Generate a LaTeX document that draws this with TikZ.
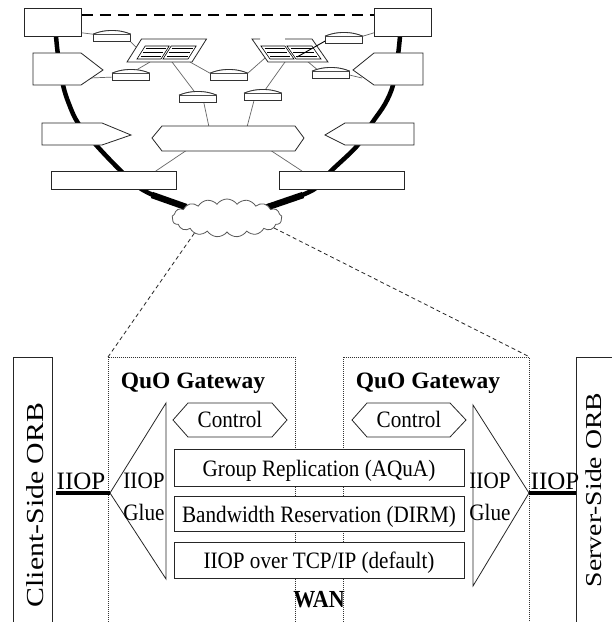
\documentclass[tikz,border=0pt]{standalone}
\usepackage{fontspec}
\setmainfont{Liberation Serif}
\usepackage{graphicx}
\usetikzlibrary{shapes.symbols,calc}
\newcommand\tx[1]{\scalebox{0.9}[1]{#1}}
\newcommand\router[3]{%
  \node[rtr, anchor=south west] (#1) at (#2,#3) {};
  \draw[rtrl] (#1.north west) .. controls +(12,-5) and +(-12,-5) .. (#1.north east);}
\newcommand\panel[4]{%
  \draw[line width=0.6pt, fill=white] (#1,#2) -- ++(#3,0) -- ++({(#4)*13},-13) -- ++(-#3,0) -- cycle;
  \draw[line width=1.5pt] ({#1+(#4)*2.5+2},{#2-2.5}) -- ++({#3-4},0);
  \draw[line width=1.5pt] ({#1+(#4)*10.5+2},{#2-10.5}) -- ++({#3-4},0);
  \draw[line width=0.6pt] ({#1+(#4)*6.5+2},{#2-6.5}) -- ++({#3-4},0);}
\begin{document}
\begin{tikzpicture}[x=1pt,y=-1pt,
  box/.style={draw=black!85, line width=0.8pt, fill=white},
  rbox/.style={box, inner sep=0pt, anchor=north west},
  wire/.style={draw=black!60, line width=0.7pt},
  rtr/.style={draw=black!80, line width=0.8pt, fill=white, inner sep=0pt, minimum width=37pt, minimum height=7pt},
  rtrl/.style={draw=black!80, line width=0.8pt, fill=white},
  hubst/.style={draw=black!85, line width=0.8pt},
  gw/.style={draw=black!80, line width=0.8pt, dash pattern=on 1pt off 1pt, inner sep=0pt, anchor=north west},
  dashl/.style={draw=black!85, line width=0.8pt, dash pattern=on 4pt off 3pt},
  lbl/.style={inner sep=0pt, anchor=base, font=\fontsize{23.5}{26}\selectfont},
  bld/.style={inner sep=0pt, anchor=base, font=\fontsize{23.5}{26}\selectfont\bfseries},
  thickl/.style={line width=4pt}
]
\useasboundingbox (0,0) rectangle (612,622);
\fill[white] (0,0) rectangle (612,622);

% ---------- big U-shaped trunk ----------
\draw[line width=4.5pt, line join=round] plot[smooth, tension=0.55] coordinates
  {(56,36) (58,55) (63,85) (69,104) (78,123) (97,146) (121,171) (143,190) (180,205) (227,214)
   (272,205) (313,190) (331,171) (357,146) (372,123) (385,104) (393,85) (398,55) (400,36)};
\draw[line width=6.5pt] (152,195) -- (186,207);
\draw[line width=6.5pt] (303,195) -- (268,207);

% ---------- named anchor points ----------
\coordinate (hL-w) at (136,47);
\coordinate (hL-s1) at (150,62);
\coordinate (hL-s2) at (172,62);
\coordinate (hL-se) at (190,62);
\coordinate (hR-w) at (265,58);
\coordinate (hR-s) at (285,62);
\coordinate (hR-se) at (307,61);
\coordinate (hR-in) at (297,57);
\coordinate (pL2-c) at (90,78);
\coordinate (pR2-c) at (362,78);
\coordinate (hx-n1) at (209,127);
\coordinate (hx-n2) at (247,127);
\coordinate (hx-s1) at (187,150);
\coordinate (hx-s2) at (270,150);

% ---------- boxes ----------
\node[rbox, minimum width=57pt, minimum height=28pt] (tl) at (24,8) {};
\node[rbox, minimum width=57pt, minimum height=28pt] (tr) at (374,8) {};
\node[rbox, minimum width=125pt, minimum height=18pt] (b4l) at (51,171) {};
\node[rbox, minimum width=125pt, minimum height=18pt] (b4r) at (279,171) {};

% ---------- routers (placed first for naming) ----------
\router{r1}{93}{42}
\router{r2}{112}{81}
\router{r3}{210}{81}
\router{r4}{179}{103}
\router{r5}{244}{101}
\router{r6}{325}{44}
\router{r7}{312}{79}

% ---------- wires ----------
\draw[wire] ($(tl.south east)+(0,-4)$) -- (r1.north west);
\draw[wire] (r1.south east) -- (hL-w);
\draw[wire] (pL2-c) -- (r2.west);
\draw[wire] (r2.north) -- (hL-s1);
\draw[wire] (hL-se) -- (r3.north west);
\draw[wire] (r3.north east) -- (hR-w);
\draw[wire] (hL-s2) -- ($(r4.north)+(-3,-3)$);
\draw[wire] ($(r4.south)+(6,0)$) -- (hx-n1);
\draw[wire] (hR-s) -- ($(r5.north)+(2,-3)$);
\draw[wire] ($(r5.south)+(-9,0)$) -- (hx-n2);
\draw[wire] (hR-se) -- ($(r7.north west)+(6,-1)$);
\draw[wire] (r7.east) -- (pR2-c);
\draw[wire] (r6.north east) -- ($(tr.south west)+(0,-4)$);
\draw[wire] (hx-s1) -- ($(b4l.north east)+(-21,0)$);
\draw[wire] (hx-s2) -- ($(b4r.north west)+(23,0)$);

% ---------- pentagons and hexagon ----------
\draw[box] (33,53) -- (81,53) -- (103,70) -- (81,85) -- (33,85) -- cycle;
\draw[box] (423,53) -- (374,53) -- (353,70) -- (374,85) -- (423,85) -- cycle;
\draw[box] (42,123) -- (102,123) -- (131,135) -- (102,145) -- (42,145) -- cycle;
\draw[box] (414,123) -- (345,123) -- (325,135) -- (345,145) -- (414,145) -- cycle;
\draw[box] (152,138) -- (162,126) -- (295,126) -- (304,138) -- (295,151) -- (162,151) -- cycle;

% ---------- hubs ----------
\draw[hubst, fill=white] (127,62) -- (192,62) -- (206.5,39) -- (141.5,39) -- cycle;
\panel{137}{59}{24}{0.63}
\panel{163}{59}{25}{0.63}
\fill[white] (268,62) -- (328,62) -- (312,39) -- (252,39) -- cycle;
\draw[hubst] (285,39) -- (312,39) -- (328,62) -- (268,62) -- (252,39) -- (260,39);
\panel{270}{59}{24}{-0.7}
\panel{296}{59}{25}{-0.7}
\draw[line width=0.9pt] ($(r6.west)+(0,1)$) -- (hR-in);

% ---------- redraw routers on top of wires ----------
\router{r1}{93}{42}
\router{r2}{112}{81}
\router{r3}{210}{81}
\router{r4}{179}{103}
\router{r5}{244}{101}
\router{r6}{325}{44}
\router{r7}{312}{79}

% top dashed link
\draw[line width=2.5pt, dash pattern=on 11pt off 7pt] ($(tl.north east)+(0,7)$) -- ($(tr.north west)+(0,7)$);

% ---------- cloud ----------
\node[cloud, cloud puffs=17, cloud puff arc=110, aspect=2.9, draw=black!65, fill=white,
      line width=0.8pt, minimum width=110pt, minimum height=38pt, inner sep=0pt] (cloud) at (227,218) {};

% ---------- bottom: gateways ----------
\node[gw, minimum width=187pt, minimum height=280pt] (gwL) at (108,357) {};
\node[gw, minimum width=186pt, minimum height=280pt] (gwR) at (343,357) {};
\draw[dashl] (cloud.205) -- (gwL.north west);
\draw[dashl] (cloud.-12) -- (gwR.north east);

% ORBs
\node[rbox, minimum width=39pt, minimum height=280pt] (orbL) at (13,357) {};
\node[rbox, minimum width=40pt, minimum height=280pt] (orbR) at (576,357) {};
\node[inner sep=0pt] (orbLt) at (35.5,505) {\scalebox{0.82}[1]{\rotatebox{90}{\fontsize{29.8}{30}\selectfont Client-Side ORB}}};
\node[inner sep=0pt] (orbRt) at (594,490) {\scalebox{0.82}[1]{\rotatebox{90}{\fontsize{27.7}{30}\selectfont Server-Side ORB}}};

% glue triangles
\draw[box] (166,403) -- (166,579) -- (110,493) -- cycle;
\draw[box] (473,405) -- (473,586) -- (529,493) -- cycle;
\coordinate (glL) at (110,493);
\coordinate (glR) at (529,493);
\node[lbl] (glLt1) at (144,488) {\tx{IIOP}};
\node[lbl] (glLt2) at (144,520) {\tx{Glue}};
\node[lbl] (glRt1) at (490,488) {\tx{IIOP}};
\node[lbl] (glRt2) at (490,520) {\tx{Glue}};

% IIOP links
\draw[thickl] ($(orbL.east |- glL)+(3,0)$) -- (glL);
\draw[thickl] (glR) -- (orbR.west |- glR);
\node[lbl, font=\fontsize{25}{26}\selectfont] (iiopL) at (81,489) {IIOP};
\node[lbl, font=\fontsize{25}{26}\selectfont] (iiopR) at (555,489) {IIOP};

% titles
\node[bld] (qL) at (193,388) {QuO Gateway};
\node[bld] (qR) at (428,388) {QuO Gateway};

% control hexagons
\draw[box] (173,420) -- (188,403) -- (272,403) -- (287,420) -- (272,437) -- (188,437) -- cycle;
\draw[box] (352,420) -- (367,403) -- (450,403) -- (466,420) -- (450,437) -- (367,437) -- cycle;
\node[lbl] (cL) at (230,427) {\tx{Control}};
\node[lbl] (cR) at (409,427) {\tx{Control}};

% protocol stack
\node[rbox, minimum width=290pt, minimum height=37pt] (s1) at (174,449) {};
\node[rbox, minimum width=290pt, minimum height=35pt] (s2) at (174,496) {};
\node[rbox, minimum width=290pt, minimum height=36pt] (s3) at (174,542) {};
\node[lbl] (s1t) at (319,476) {\tx{Group Replication (AQuA)}};
\node[lbl] (s2t) at (319,522) {\tx{Bandwidth Reservation (DIRM)}};
\node[lbl] (s3t) at (319,568) {\tx{IIOP over TCP/IP (default)}};
\node[bld, font=\fontsize{24.5}{26}\selectfont\bfseries] (wan) at (319,607) {\tx{WAN}};
\end{tikzpicture}
\end{document}
